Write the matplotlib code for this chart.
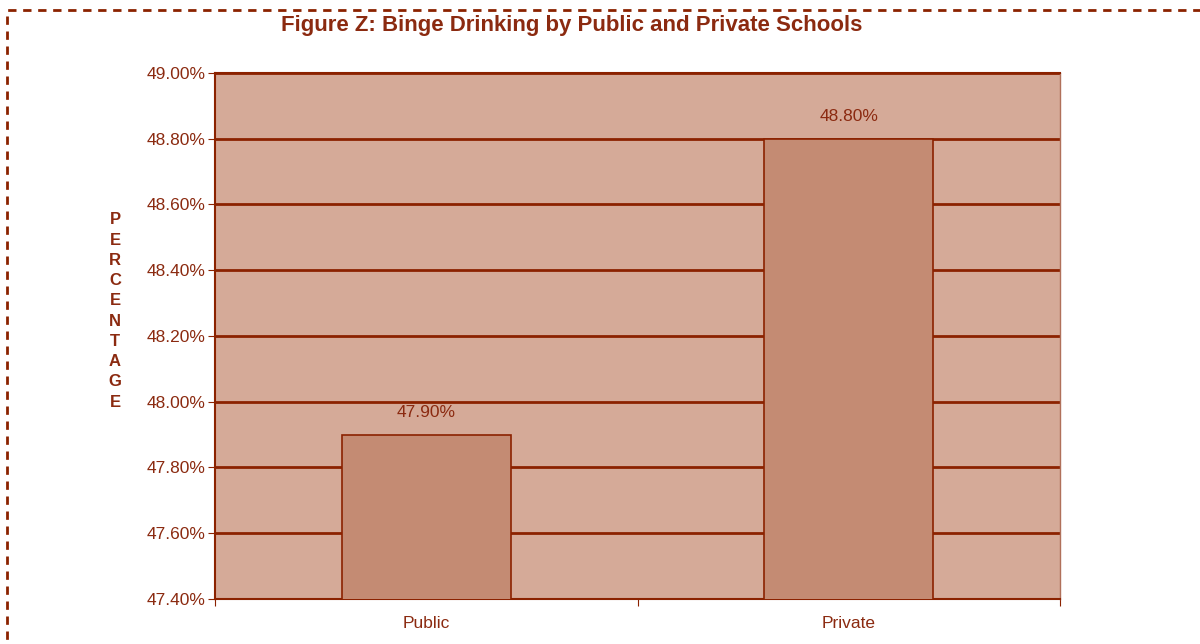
import matplotlib.pyplot as plt
from matplotlib.patches import Rectangle
from matplotlib.ticker import FuncFormatter, MultipleLocator

plt.rcParams['font.family'] = ['Liberation Sans', 'DejaVu Sans']

schools = ['Public', 'Private']
binge_pct = [47.90, 48.80]

dark = '#8B2200'
text_col = '#8B2A10'
panel = '#D5AA98'
bar_col = '#C48B73'

fig = plt.figure(figsize=(12, 6.44), dpi=100)
fig.patch.set_facecolor('white')

# dashed frame around the figure
fig.patches.append(Rectangle((7 / 1200, -0.05), 1.2, 1 - 10 / 644 + 0.05,
                             transform=fig.transFigure, fill=False,
                             edgecolor=dark, linewidth=2,
                             linestyle=(0, (3, 2.4)), zorder=0))

ax = fig.add_axes([215 / 1200, 1 - 599 / 644, 845 / 1200, (599 - 73) / 644])
ax.set_facecolor(panel)

x = [i + 0.5 for i in range(len(schools))]
ax.bar(x, binge_pct, width=0.4, bottom=0, color=bar_col,
       edgecolor=dark, linewidth=1.2, zorder=3)

for xi, v in zip(x, binge_pct):
    ax.text(xi, v + 0.045, f'{v:.2f}%', ha='center', va='bottom',
            fontsize=12.5, color=text_col, zorder=4)

ax.set_ylim(47.4, 49.0)
ax.set_xlim(0, len(schools))
ax.yaxis.set_major_locator(MultipleLocator(0.2))
ax.yaxis.set_major_formatter(FuncFormatter(lambda v, _: f'{v:.2f}%'))
ax.yaxis.grid(True, color=dark, linewidth=2, zorder=1)
ax.set_axisbelow(True)

ax.set_xticks([0, 1, 2])
ax.set_xticklabels([])
ax.set_xticks(x, minor=True)
ax.set_xticklabels(schools, minor=True)
ax.tick_params(axis='x', which='minor', length=0, pad=12,
               labelsize=12.5, labelcolor=text_col)
ax.tick_params(axis='x', which='major', length=5, color=dark, direction='out')
ax.tick_params(axis='y', length=5, color=dark, labelsize=12.5,
               labelcolor=text_col, pad=2)

for side in ['left', 'bottom', 'top']:
    ax.spines[side].set_color(dark)
    ax.spines[side].set_linewidth(1.5)
ax.spines['right'].set_color('#B0705A')
ax.spines['right'].set_linewidth(1)

fig.text(572 / 1200, 1 - 25.5 / 644,
         'Figure Z: Binge Drinking by Public and Private Schools',
         ha='center', va='center', fontsize=16, fontweight='bold',
         color=text_col)

fig.text(115 / 1200, 1 - 311 / 644, '\n'.join('PERCENTAGE'),
         ha='center', va='center', fontsize=12, fontweight='bold',
         color=text_col, linespacing=1.44)

fig.savefig('out.png', dpi=100)
